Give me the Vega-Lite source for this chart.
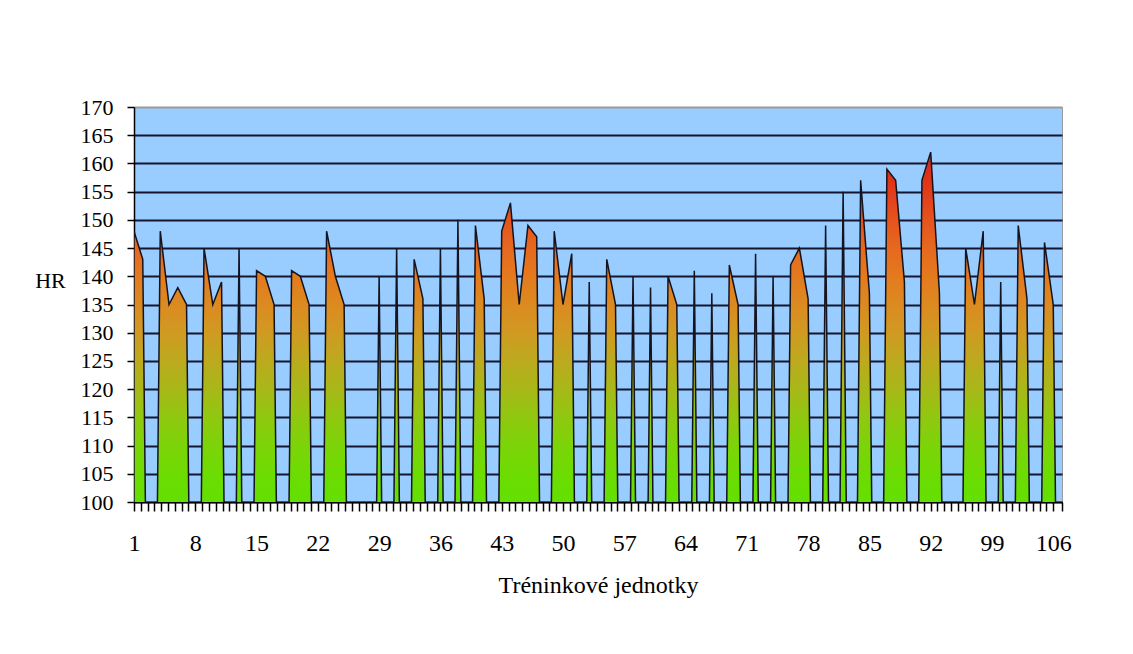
{
  "$schema": "https://vega.github.io/schema/vega-lite/v6.json",
  "width": 928,
  "height": 395,
  "autosize": {"type": "none"},
  "padding": {"left": 134, "top": 107, "right": 71, "bottom": 152},
  "background": "white",
  "config": {
    "view": {"fill": "#99ccff", "stroke": "#9a9a9a", "strokeWidth": 1},
    "font": "Liberation Serif, Times New Roman, DejaVu Serif, serif"
  },
  "data": {
    "values": [
      {"unit": 1, "hr": 148}, {"unit": 2, "hr": 143}, {"unit": 3, "hr": 0}, {"unit": 4, "hr": 148},
      {"unit": 5, "hr": 135}, {"unit": 6, "hr": 138}, {"unit": 7, "hr": 135}, {"unit": 8, "hr": 0},
      {"unit": 9, "hr": 145}, {"unit": 10, "hr": 135}, {"unit": 11, "hr": 139}, {"unit": 12, "hr": 0},
      {"unit": 13, "hr": 145}, {"unit": 14, "hr": 0}, {"unit": 15, "hr": 141}, {"unit": 16, "hr": 140},
      {"unit": 17, "hr": 135}, {"unit": 18, "hr": 0}, {"unit": 19, "hr": 141}, {"unit": 20, "hr": 140},
      {"unit": 21, "hr": 135}, {"unit": 22, "hr": 0}, {"unit": 23, "hr": 148}, {"unit": 24, "hr": 140},
      {"unit": 25, "hr": 135}, {"unit": 26, "hr": 0}, {"unit": 27, "hr": 0}, {"unit": 28, "hr": 0},
      {"unit": 29, "hr": 140}, {"unit": 30, "hr": 0}, {"unit": 31, "hr": 145}, {"unit": 32, "hr": 0},
      {"unit": 33, "hr": 143}, {"unit": 34, "hr": 136}, {"unit": 35, "hr": 0}, {"unit": 36, "hr": 145},
      {"unit": 37, "hr": 0}, {"unit": 38, "hr": 150}, {"unit": 39, "hr": 0}, {"unit": 40, "hr": 149},
      {"unit": 41, "hr": 136}, {"unit": 42, "hr": 0}, {"unit": 43, "hr": 148}, {"unit": 44, "hr": 153},
      {"unit": 45, "hr": 135}, {"unit": 46, "hr": 149}, {"unit": 47, "hr": 147}, {"unit": 48, "hr": 0},
      {"unit": 49, "hr": 148}, {"unit": 50, "hr": 135}, {"unit": 51, "hr": 144}, {"unit": 52, "hr": 0},
      {"unit": 53, "hr": 139}, {"unit": 54, "hr": 0}, {"unit": 55, "hr": 143}, {"unit": 56, "hr": 135},
      {"unit": 57, "hr": 0}, {"unit": 58, "hr": 140}, {"unit": 59, "hr": 0}, {"unit": 60, "hr": 138},
      {"unit": 61, "hr": 0}, {"unit": 62, "hr": 140}, {"unit": 63, "hr": 135}, {"unit": 64, "hr": 0},
      {"unit": 65, "hr": 141}, {"unit": 66, "hr": 0}, {"unit": 67, "hr": 137}, {"unit": 68, "hr": 0},
      {"unit": 69, "hr": 142}, {"unit": 70, "hr": 135}, {"unit": 71, "hr": 0}, {"unit": 72, "hr": 144},
      {"unit": 73, "hr": 0}, {"unit": 74, "hr": 140}, {"unit": 75, "hr": 0}, {"unit": 76, "hr": 142},
      {"unit": 77, "hr": 145}, {"unit": 78, "hr": 136}, {"unit": 79, "hr": 0}, {"unit": 80, "hr": 149},
      {"unit": 81, "hr": 0}, {"unit": 82, "hr": 155}, {"unit": 83, "hr": 0}, {"unit": 84, "hr": 157},
      {"unit": 85, "hr": 137}, {"unit": 86, "hr": 0}, {"unit": 87, "hr": 159}, {"unit": 88, "hr": 157},
      {"unit": 89, "hr": 139}, {"unit": 90, "hr": 0}, {"unit": 91, "hr": 157}, {"unit": 92, "hr": 162},
      {"unit": 93, "hr": 137}, {"unit": 94, "hr": 0}, {"unit": 95, "hr": 0}, {"unit": 96, "hr": 145},
      {"unit": 97, "hr": 135}, {"unit": 98, "hr": 148}, {"unit": 99, "hr": 0}, {"unit": 100, "hr": 139},
      {"unit": 101, "hr": 0}, {"unit": 102, "hr": 149}, {"unit": 103, "hr": 136}, {"unit": 104, "hr": 0},
      {"unit": 105, "hr": 146}, {"unit": 106, "hr": 135}, {"unit": 107, "hr": 0}
    ]
  },
  "mark": {
    "type": "area",
    "clip": true,
    "interpolate": "linear",
    "stroke": "#141420",
    "strokeWidth": 1.5,
    "fill": {
      "gradient": "linear",
      "x1": 0, "y1": 0, "x2": 0, "y2": 1,
      "stops": [
        {"offset": 0, "color": "#d82418"},
        {"offset": 0.0432, "color": "#e03c1a"},
        {"offset": 0.0741, "color": "#e5541c"},
        {"offset": 0.1049, "color": "#e6681e"},
        {"offset": 0.1358, "color": "#e47a1e"},
        {"offset": 0.1667, "color": "#dc8a20"},
        {"offset": 0.1975, "color": "#d09a22"},
        {"offset": 0.2284, "color": "#bcaa1e"},
        {"offset": 0.2593, "color": "#a8b818"},
        {"offset": 0.2901, "color": "#90c810"},
        {"offset": 0.321, "color": "#7cd408"},
        {"offset": 0.3519, "color": "#6ddc02"},
        {"offset": 0.3827, "color": "#62e000"},
        {"offset": 1, "color": "#62e000"}
      ]
    }
  },
  "encoding": {
    "x": {
      "field": "unit",
      "type": "quantitative",
      "scale": {"domain": [1, 107], "nice": false, "zero": false},
      "axis": {
        "title": "Tréninkové jednotky",
        "values": [1, 1.7778, 2.5556, 3.3333, 4.1111, 4.8889, 5.6667, 6.4444, 7.2222,
          8, 8.7778, 9.5556, 10.3333, 11.1111, 11.8889, 12.6667, 13.4444, 14.2222,
          15, 15.7778, 16.5556, 17.3333, 18.1111, 18.8889, 19.6667, 20.4444, 21.2222,
          22, 22.7778, 23.5556, 24.3333, 25.1111, 25.8889, 26.6667, 27.4444, 28.2222,
          29, 29.7778, 30.5556, 31.3333, 32.1111, 32.8889, 33.6667, 34.4444, 35.2222,
          36, 36.7778, 37.5556, 38.3333, 39.1111, 39.8889, 40.6667, 41.4444, 42.2222,
          43, 43.7778, 44.5556, 45.3333, 46.1111, 46.8889, 47.6667, 48.4444, 49.2222,
          50, 50.7778, 51.5556, 52.3333, 53.1111, 53.8889, 54.6667, 55.4444, 56.2222,
          57, 57.7778, 58.5556, 59.3333, 60.1111, 60.8889, 61.6667, 62.4444, 63.2222,
          64, 64.7778, 65.5556, 66.3333, 67.1111, 67.8889, 68.6667, 69.4444, 70.2222,
          71, 71.7778, 72.5556, 73.3333, 74.1111, 74.8889, 75.6667, 76.4444, 77.2222,
          78, 78.7778, 79.5556, 80.3333, 81.1111, 81.8889, 82.6667, 83.4444, 84.2222,
          85, 85.7778, 86.5556, 87.3333, 88.1111, 88.8889, 89.6667, 90.4444, 91.2222,
          92, 92.7778, 93.5556, 94.3333, 95.1111, 95.8889, 96.6667, 97.4444, 98.2222,
          99, 99.7778, 100.5556, 101.3333, 102.1111, 102.8889, 103.6667, 104.4444, 105.2222,
          106, 107],
        "labelExpr": "datum.value % 7 == 1 ? datum.label : ''",
        "labelOverlap": false,
        "labelFlush": false,
        "labelFont": "Liberation Serif, Times New Roman, DejaVu Serif, serif",
        "labelFontSize": 24,
        "labelColor": "#000000",
        "labelPadding": 20,
        "tickSize": 9,
        "tickColor": "#000000",
        "tickWidth": 1.5,
        "domainColor": "#000000",
        "domainWidth": 1.5,
        "grid": false,
        "titleFont": "Liberation Serif, Times New Roman, DejaVu Serif, serif",
        "titleFontSize": 24,
        "titleFontWeight": "normal",
        "titleColor": "#000000",
        "titleY": 90,
        "titleBaseline": "alphabetic"
      }
    },
    "y": {
      "field": "hr",
      "type": "quantitative",
      "scale": {"domain": [100, 170], "nice": false, "zero": false},
      "axis": {
        "title": "HR",
        "values": [100, 105, 110, 115, 120, 125, 130, 135, 140, 145, 150, 155, 160, 165, 170],
        "grid": true,
        "gridColor": {"condition": {"test": "datum.value == 170", "value": "#9a9a9a"}, "value": "#15152e"},
        "gridWidth": 1.8,
        "tickSize": 7,
        "tickColor": "#000000",
        "tickWidth": 1.5,
        "domainColor": "#000000",
        "domainWidth": 1.5,
        "labelFont": "Liberation Serif, Times New Roman, DejaVu Serif, serif",
        "labelFontSize": 22,
        "labelColor": "#000000",
        "labelPadding": 14,
        "titleFont": "Liberation Serif, Times New Roman, DejaVu Serif, serif",
        "titleFontSize": 22,
        "titleFontWeight": "normal",
        "titleColor": "#000000",
        "titleAngle": 0,
        "titleX": -84,
        "titleY": 173,
        "titleAlign": "center",
        "titleBaseline": "middle"
      }
    }
  }
}
